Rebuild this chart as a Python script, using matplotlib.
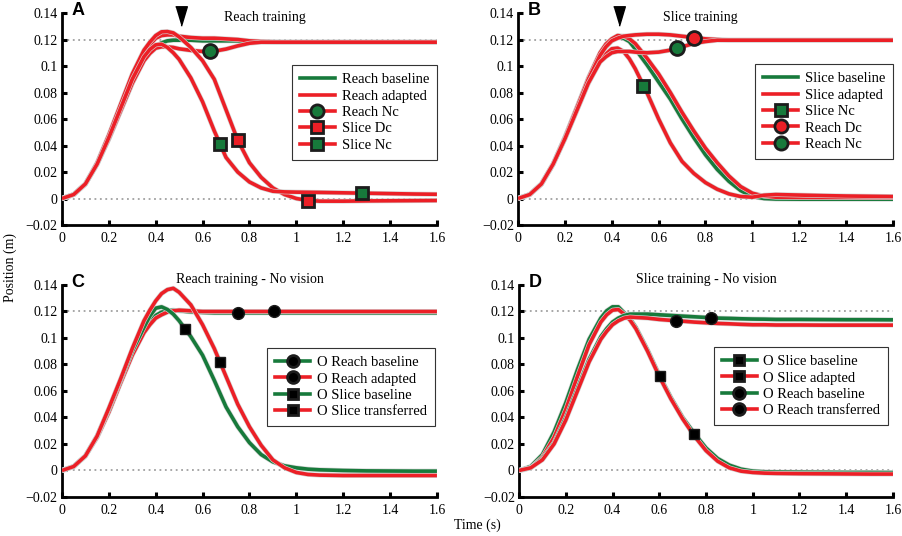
import numpy as np
import matplotlib.pyplot as plt
import matplotlib.patheffects as pe
from matplotlib.lines import Line2D

plt.rcParams.update({
    "font.family": "Liberation Serif",
    "font.size": 10,
})

RED = "#ec1f26"
GREEN = "#177a3b"
EDGE = "#1c1c1c"

# sample times (s) shared by every trajectory
t = [0, 0.05, 0.1, 0.15, 0.2, 0.25, 0.3, 0.35, 0.375, 0.4, 0.425, 0.45, 0.475, 0.5, 0.55, 0.6,
     0.65, 0.7, 0.75, 0.8, 0.85, 0.9, 0.95, 1.0, 1.05, 1.1, 1.2, 1.3, 1.4, 1.5, 1.6]

x_ticks = [0, 0.2, 0.4, 0.6, 0.8, 1.0, 1.2, 1.4, 1.6]
x_tick_labels = ["0", "0.2", "0.4", "0.6", "0.8", "1", "1.2", "1.4", "1.6"]
y_ticks = [-0.02, 0, 0.02, 0.04, 0.06, 0.08, 0.1, 0.12, 0.14]
y_tick_labels = ["\u22120.02", "0", "0.02", "0.04", "0.06", "0.08", "0.1", "0.12", "0.14"]

# ---- A: reach training ----
a_reach_base = [0, .003, .011, .026, .045, .066, .087, .105, .1105, .115, .1175, .119, .1195, .1195,
                .1195, .119, .119, .119, .119, .1185, .1183, .118, .118, .118, .118, .118, .118, .118,
                .118, .118, .118]
a_reach_adapt = [0, .003, .011, .026, .046, .068, .090, .109, .116, .121, .123, .1235, .1235, .1225,
                 .1215, .121, .121, .1205, .120, .119, .1185, .1183, .118, .118, .118, .118, .118, .118,
                 .118, .118, .118]
a_reach_nc = [0, .003, .011, .026, .045, .066, .087, .104, .1095, .1135, .1145, .1145, .114, .113,
              .1118, .111, .1112, .1128, .1152, .1172, .118, .118, .118, .118, .118, .118, .118, .118,
              .118, .118, .118]
a_slice_dc = [0, .003, .011, .027, .048, .071, .094, .112, .118, .123, .1258, .126, .125, .122,
              .114, .104, .090, .067, .044, .027, .016, .008, .003, .0, -.0015, -.002, -.002, -.0018,
              -.0017, -.0016, -.0015]
a_slice_nc = [0, .003, .011, .026, .046, .068, .090, .107, .1125, .116, .1165, .114, .110, .105,
              .091, .073, .051, .031, .020, .0125, .008, .0055, .005, .0048, .0047, .0046, .0043, .004,
              .0037, .0034, .0032]
a_reach_nc_pts = ([0.631], [0.1112])
a_slice_dc_pts = ([0.75, 1.05], [0.044, -0.0015])
a_slice_nc_pts = ([0.674, 1.28], [0.041, 0.0041])

# ---- B: slice training ----
b_slice_base = [0, .003, .011, .026, .046, .068, .090, .108, .1145, .119, .1215, .121, .1185, .113,
                .101, .088, .075, .060, .046, .033, .022, .013, .006, .0015, .0, -.0004, -.0005, -.0005,
                -.0005, -.0005, -.0005]
b_slice_adapt = [0, .003, .011, .026, .046, .068, .091, .110, .1165, .1205, .123, .1225, .1205, .117,
                 .106, .094, .080, .065, .051, .038, .027, .017, .009, .004, .0018, .001, .0008, .0008,
                 .0008, .0008, .0008]
b_slice_nc = [0, .003, .011, .026, .045, .066, .087, .104, .109, .113, .1135, .111, .1055, .098,
              .080, .060, .042, .028, .019, .012, .007, .0035, .0015, .001, .0025, .003, .0026, .0022,
              .0019, .0017, .0015]
b_reach_dc = [0, .003, .011, .026, .046, .068, .090, .108, .1145, .119, .121, .1225, .123, .1235,
              .124, .124, .1235, .1225, .1215, .1205, .120, .1195, .1195, .1195, .1195, .1195, .1195,
              .1195, .1195, .1195, .1195]
b_reach_nc = [0, .003, .011, .026, .045, .066, .087, .103, .107, .110, .111, .111, .111, .1105,
              .110, .1105, .112, .1145, .117, .1185, .1195, .1195, .1195, .1195, .1195, .1195, .1195,
              .1195, .1195, .1195, .1195]
b_slice_nc_pts = ([0.535], [0.085])
b_reach_dc_pts = ([0.751], [0.1215])
b_reach_nc_pts = ([0.68], [0.1134])

# ---- C: reach training, no vision ----
c_reach_base = [0, .003, .011, .026, .046, .068, .090, .107, .1125, .117, .1195, .1205, .121, .1205,
                .1197, .1193, .119, .119, .119, .119, .119, .119, .119, .119, .119, .119, .119, .119,
                .119, .119, .119]
c_reach_adapt = [0, .003, .011, .025, .044, .066, .087, .104, .110, .115, .1175, .1195, .1205, .121,
                 .1205, .120, .120, .120, .120, .120, .120, .120, .120, .120, .120, .120, .120, .120,
                 .120, .120, .120]
c_slice_base = [0, .003, .011, .026, .046, .068, .090, .108, .1165, .1225, .1235, .1215, .118, .113,
                .101, .087, .068, .048, .033, .021, .012, .0065, .0035, .002, .001, .0005, .0, -.0003,
                -.0004, -.0005, -.0005]
c_slice_trans = [0, .003, .011, .026, .047, .069, .092, .113, .121, .128, .1335, .1365, .1375, .1345,
                 .125, .110, .092, .071, .050, .033, .019, .008, .002, -.0015, -.003, -.0035, -.0038,
                 -.0038, -.0038, -.0038, -.0038]
c_reach_base_pts = ([0.75], [0.1192])
c_reach_adapt_pts = ([0.905], [0.120])
c_slice_base_pts = ([0.525], [0.107])
c_slice_trans_pts = ([0.676], [0.082])

# ---- D: slice training, no vision ----
d_slice_base = [0, .003, .012, .029, .051, .076, .099, .115, .1205, .1235, .1235, .119, .1145, .108,
                .091, .072, .055, .040, .028, .017, .009, .004, .001, -.0005, -.001, -.0012, -.0013,
                -.0014, -.0015, -.0015, -.0016]
d_slice_adapt = [0, .002, .010, .025, .046, .071, .095, .112, .1175, .121, .1215, .118, .1135, .107,
                 .090, .071, .054, .039, .026, .015, .007, .002, -.0005, -.0015, -.002, -.0022, -.0024,
                 -.0025, -.0026, -.0027, -.0027]
d_reach_base = [0, .002, .009, .021, .040, .062, .084, .101, .107, .112, .115, .117, .118, .118,
                .118, .1175, .117, .1165, .116, .1155, .115, .1148, .1145, .1143, .1142, .114, .114,
                .1139, .1138, .1138, .1137]
d_reach_trans = [0, .002, .008, .020, .038, .060, .082, .099, .105, .110, .113, .115, .1158, .1155,
                 .115, .114, .1133, .1127, .112, .1115, .111, .1107, .1103, .110, .110, .1098, .1098,
                 .1097, .1097, .1097, .1097]
d_slice_base_pts = ([0.605], [0.0712])
d_slice_adapt_pts = ([0.749], [0.0275])
d_reach_base_pts = ([0.823], [0.115])
d_reach_trans_pts = ([0.673], [0.113])

LW = 2.6
halo = [pe.Stroke(linewidth=LW + 0.9, foreground="#d4d4d4"), pe.Normal()]
# tall narrow pointer used above the panels
POINTER = [(-0.6, 1.0), (0.6, 1.0), (0.0, -1.0)]


def curve(ax, y, color, z=3):
    ax.plot(t, y, color=color, lw=LW, solid_capstyle="butt", solid_joinstyle="round",
            path_effects=halo, zorder=z)


def points(ax, pts, marker, face, ms, mew=2.0):
    ax.plot(pts[0], pts[1], ls="none", marker=marker, ms=ms, mfc=face, mec=EDGE, mew=mew, zorder=6)


def handle(color, marker=None, face=None, ms=9.5):
    return Line2D([], [], color=color, lw=LW, marker=marker, ms=ms, mfc=face, mec=EDGE, mew=2.0)


def style_axes(ax):
    ax.set_xlim(0, 1.6)
    ax.set_ylim(-0.02, 0.14)
    for s in ("top", "right"):
        ax.spines[s].set_visible(False)
    for s in ("left", "bottom"):
        ax.spines[s].set_linewidth(2.0)
    ax.set_xticks(x_ticks)
    ax.set_xticklabels(x_tick_labels)
    ax.set_yticks(y_ticks)
    ax.set_yticklabels(y_tick_labels)
    ax.tick_params(direction="in", length=3.5, width=2.2, labelsize=10)
    ax.tick_params(axis="x", pad=5)
    ax.tick_params(axis="y", pad=3)
    for yy in (0.12, 0):
        ax.axhline(yy, color="#a0a0a0", ls=(0, (1, 2)), lw=1.3, zorder=1)


def add_legend(ax, handles, labels, top, right=1.0):
    leg = ax.legend(handles, labels, loc="upper right", bbox_to_anchor=(right, top),
                    frameon=True, fancybox=False, edgecolor="#333333", framealpha=1,
                    handlelength=2.4, handletextpad=0.45, labelspacing=0.22,
                    borderpad=0.55, borderaxespad=0, fontsize=10.5)
    leg.get_frame().set_linewidth(0.8)
    leg.set_zorder(8)


def panel_label(ax, letter):
    ax.text(0.025, 1.01, letter, transform=ax.transAxes, ha="left", va="center",
            fontsize=13, fontweight="bold", family="Liberation Sans")


fig = plt.figure(figsize=(9.02, 5.36), dpi=100)
ax_a = fig.add_axes([0.0687, 0.5802, 0.4157, 0.3955])
ax_b = fig.add_axes([0.5743, 0.5802, 0.4157, 0.3955])
ax_c = fig.add_axes([0.0687, 0.0728, 0.4157, 0.3955])
ax_d = fig.add_axes([0.5754, 0.0728, 0.4146, 0.3955])

# A
style_axes(ax_a)
curve(ax_a, a_reach_base, GREEN)
curve(ax_a, a_reach_adapt, RED)
curve(ax_a, a_reach_nc, RED)
curve(ax_a, a_slice_dc, RED)
curve(ax_a, a_slice_nc, RED)
points(ax_a, a_reach_nc_pts, "o", GREEN, 10)
points(ax_a, a_slice_dc_pts, "s", RED, 9)
points(ax_a, a_slice_nc_pts, "s", GREEN, 9)
ax_a.plot([0.507], [0.1375], marker=POINTER, ms=14, color="black", clip_on=False, zorder=7)
ax_a.text(0.541, 0.981, "Reach training", transform=ax_a.transAxes, ha="center", va="center")
add_legend(ax_a,
           [handle(GREEN), handle(RED), handle(RED, "o", GREEN),
            handle(RED, "s", RED, 8.5), handle(RED, "s", GREEN, 8.5)],
           ["Reach baseline", "Reach adapted", "Reach Nc", "Slice Dc", "Slice Nc"], 0.755)
panel_label(ax_a, "A")

# B
style_axes(ax_b)
curve(ax_b, b_slice_base, GREEN)
curve(ax_b, b_slice_adapt, RED)
curve(ax_b, b_slice_nc, RED)
curve(ax_b, b_reach_dc, RED)
curve(ax_b, b_reach_nc, RED)
points(ax_b, b_slice_nc_pts, "s", GREEN, 9)
points(ax_b, b_reach_dc_pts, "o", RED, 10)
points(ax_b, b_reach_nc_pts, "o", GREEN, 10)
ax_b.plot([0.431], [0.1375], marker=POINTER, ms=14, color="black", clip_on=False, zorder=7)
ax_b.text(0.487, 0.981, "Slice training", transform=ax_b.transAxes, ha="center", va="center")
add_legend(ax_b,
           [handle(GREEN), handle(RED), handle(RED, "s", GREEN, 8.5),
            handle(RED, "o", RED), handle(RED, "o", GREEN)],
           ["Slice baseline", "Slice adapted", "Slice Nc", "Reach Dc", "Reach Nc"], 0.759)
panel_label(ax_b, "B")

# C
style_axes(ax_c)
curve(ax_c, c_reach_base, GREEN)
curve(ax_c, c_reach_adapt, RED)
curve(ax_c, c_slice_base, GREEN)
curve(ax_c, c_slice_trans, RED)
points(ax_c, c_reach_base_pts, "o", "black", 8.5, 1)
points(ax_c, c_reach_adapt_pts, "o", "black", 8.5, 1)
points(ax_c, c_slice_base_pts, "s", "black", 7.5, 1)
points(ax_c, c_slice_trans_pts, "s", "black", 7.5, 1)
ax_c.text(0.501, 1.028, "Reach training - No vision", transform=ax_c.transAxes, ha="center", va="center")
add_legend(ax_c,
           [handle(GREEN, "o", "black", 8.5), handle(RED, "o", "black", 8.5),
            handle(GREEN, "s", "black", 7.5), handle(RED, "s", "black", 7.5)],
           ["O Reach baseline", "O Reach adapted", "O Slice baseline", "O Slice transferred"],
           0.703, 0.995)
panel_label(ax_c, "C")

# D
style_axes(ax_d)
curve(ax_d, d_slice_base, GREEN)
curve(ax_d, d_slice_adapt, RED)
curve(ax_d, d_reach_base, GREEN)
curve(ax_d, d_reach_trans, RED)
points(ax_d, d_slice_base_pts, "s", "black", 7.5, 1)
points(ax_d, d_slice_adapt_pts, "s", "black", 7.5, 1)
points(ax_d, d_reach_base_pts, "o", "black", 8.5, 1)
points(ax_d, d_reach_trans_pts, "o", "black", 8.5, 1)
ax_d.text(0.5, 1.028, "Slice training - No vision", transform=ax_d.transAxes, ha="center", va="center")
add_legend(ax_d,
           [handle(GREEN, "s", "black", 7.5), handle(RED, "s", "black", 7.5),
            handle(GREEN, "o", "black", 8.5), handle(RED, "o", "black", 8.5)],
           ["O Slice baseline", "O Slice adapted", "O Reach baseline", "O Reach transferred"],
           0.708, 0.987)
panel_label(ax_d, "D")

fig.text(0.011, 0.5, "Position (m)", rotation=90, ha="center", va="center")
fig.text(0.529, 0.0205, "Time (s)", ha="center", va="center")

fig.savefig("out.png", dpi=100)
